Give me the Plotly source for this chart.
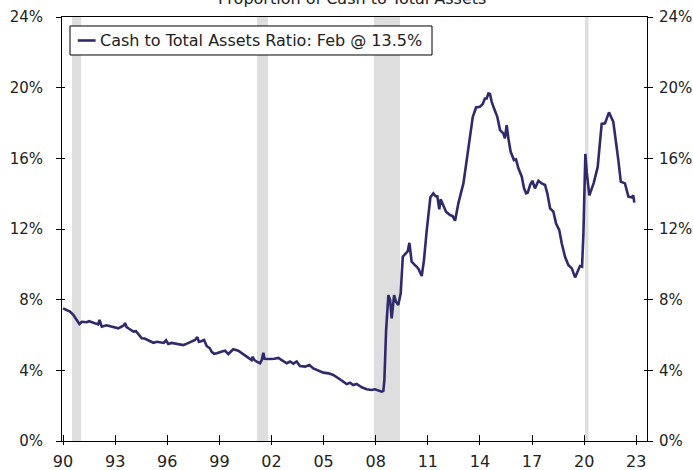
import plotly.graph_objects as go

# ---- data (decimal year, % of total assets) ----
years = [
    1990.00, 1990.20, 1990.40, 1990.60, 1990.80, 1990.94, 1991.08, 1991.36, 1991.50, 1991.65,
    1991.90, 1992.02, 1992.10, 1992.23, 1992.50, 1992.70, 1992.90, 1993.18, 1993.38, 1993.50,
    1993.57, 1993.66, 1993.76, 1994.05, 1994.20, 1994.34, 1994.53, 1994.70, 1994.91, 1995.05,
    1995.20, 1995.40, 1995.58, 1995.80, 1995.93, 1996.06, 1996.25, 1996.45, 1996.70, 1996.93,
    1997.10, 1997.31, 1997.50, 1997.60, 1997.73, 1997.82, 1997.95, 1998.12, 1998.27, 1998.45,
    1998.56, 1998.70, 1998.85, 1999.04, 1999.20, 1999.33, 1999.52, 1999.65, 1999.80, 2000.09,
    2000.25, 2000.38, 2000.55, 2000.67, 2000.86, 2000.92, 2001.00, 2001.15, 2001.34, 2001.44,
    2001.53, 2001.60, 2001.75, 2001.92, 2002.15, 2002.40, 2002.59, 2002.75, 2002.88, 2003.07,
    2003.26, 2003.45, 2003.64, 2003.93, 2004.18, 2004.41, 2004.55, 2004.70, 2004.99, 2005.28,
    2005.56, 2005.85, 2006.00, 2006.14, 2006.33, 2006.52, 2006.71, 2006.90, 2007.05, 2007.20,
    2007.48, 2007.77, 2007.96, 2008.15, 2008.35, 2008.44, 2008.50, 2008.60, 2008.73, 2008.83,
    2008.92, 2009.06, 2009.17, 2009.30, 2009.44, 2009.56, 2009.75, 2009.85, 2009.94, 2010.07,
    2010.26, 2010.45, 2010.65, 2010.78, 2010.94, 2011.05, 2011.15, 2011.32, 2011.45, 2011.55,
    2011.66, 2011.74, 2011.85, 2012.05, 2012.28, 2012.43, 2012.57, 2012.76, 2012.95, 2013.05,
    2013.24, 2013.43, 2013.59, 2013.78, 2014.00, 2014.16, 2014.29, 2014.39, 2014.49, 2014.58,
    2014.68, 2014.81, 2014.92, 2015.00, 2015.16, 2015.35, 2015.44, 2015.54, 2015.64, 2015.77,
    2015.96, 2016.08, 2016.21, 2016.41, 2016.54, 2016.66, 2016.75, 2016.89, 2017.02, 2017.17,
    2017.37, 2017.56, 2017.75, 2017.88, 2018.04, 2018.23, 2018.38, 2018.57, 2018.71, 2018.90,
    2019.09, 2019.29, 2019.48, 2019.63, 2019.76, 2019.88, 2019.96, 2020.07, 2020.15, 2020.30,
    2020.55, 2020.78, 2021.01, 2021.20, 2021.43, 2021.68, 2021.88, 2021.97, 2022.11, 2022.35,
    2022.55, 2022.74, 2022.83, 2022.89,
]
cash_ratio = [
    7.51, 7.42, 7.32, 7.13, 6.85, 6.62, 6.75, 6.72, 6.78, 6.72,
    6.66, 6.60, 6.85, 6.47, 6.55, 6.50, 6.47, 6.38, 6.48, 6.55,
    6.68, 6.45, 6.38, 6.19, 6.22, 6.05, 5.81, 5.80, 5.70, 5.60,
    5.56, 5.62, 5.60, 5.55, 5.70, 5.49, 5.55, 5.52, 5.48, 5.43,
    5.50, 5.60, 5.70, 5.72, 5.88, 5.62, 5.65, 5.72, 5.38, 5.25,
    5.05, 4.94, 4.97, 5.05, 5.08, 5.11, 4.92, 5.05, 5.19, 5.11,
    5.00, 4.92, 4.80, 4.73, 4.58, 4.77, 4.60, 4.49, 4.40, 4.58,
    5.00, 4.65, 4.63, 4.64, 4.66, 4.70, 4.58, 4.50, 4.40, 4.50,
    4.38, 4.50, 4.24, 4.21, 4.30, 4.11, 4.05, 3.98, 3.87, 3.83,
    3.74, 3.55, 3.45, 3.36, 3.22, 3.30, 3.17, 3.23, 3.12, 3.04,
    2.93, 2.89, 2.93, 2.85, 2.79, 2.83, 3.45, 6.28, 8.26, 7.98,
    6.94, 8.26, 7.88, 7.70, 8.36, 10.43, 10.62, 10.75, 11.22, 10.15,
    9.96, 9.77, 9.34, 10.24, 11.94, 13.00, 13.80, 14.02, 13.85, 13.85,
    13.11, 13.68, 13.45, 12.98, 12.79, 12.73, 12.47, 13.45, 14.20, 14.58,
    15.90, 17.41, 18.35, 18.88, 18.92, 19.07, 19.39, 19.39, 19.67, 19.64,
    19.20, 18.83, 18.55, 18.35, 17.60, 17.41, 17.13, 17.88, 17.13, 16.37,
    15.90, 15.94, 15.45, 14.96, 14.30, 14.02, 14.05, 14.49, 14.73, 14.30,
    14.73, 14.58, 14.49, 14.02, 13.17, 12.98, 12.32, 11.94, 11.19, 10.43,
    9.96, 9.77, 9.26, 9.58, 9.90, 9.86, 11.75, 16.25, 15.20, 13.90,
    14.60, 15.50, 17.95, 17.98, 18.60, 18.07, 16.66, 15.90, 14.68, 14.58,
    13.83, 13.79, 13.90, 13.49,
]

recession_start = [1990.52, 2001.17, 2007.90, 2020.05]
recession_end = [1991.04, 2001.80, 2009.40, 2020.25]

tick_years = [1990, 1993, 1996, 1999, 2002, 2005, 2008, 2011, 2014, 2017, 2020, 2023]
tick_labels = ["90", "93", "96", "99", "02", "05", "08", "11", "14", "17", "20", "23"]
y_ticks = [0, 4, 8, 12, 16, 20, 24]
y_labels = ["0%", "4%", "8%", "12%", "16%", "20%", "24%"]

legend_name = "Cash to Total Assets Ratio: Feb @ 13.5%"
title_text = "Proportion of Cash to Total Assets"

FONT = "Verdana, DejaVu Sans, sans-serif"
TEXT_COLOR = "#222222"
LINE_COLOR = "#2f2a6b"
X_RANGE = [1989.94, 2023.62]
Y_RANGE = [0, 24]

fig = go.Figure()
fig.add_trace(go.Scatter(
    x=years, y=cash_ratio, mode="lines", name=legend_name, showlegend=False,
    line=dict(color=LINE_COLOR, width=2.6),
))
# helper trace to activate the overlay axes (carries the crossing tick halves)
fig.add_trace(go.Scatter(
    x=[years[0]], y=[cash_ratio[0]], mode="markers", xaxis="x2", yaxis="y2",
    marker=dict(opacity=0), showlegend=False, hoverinfo="skip",
))

for s, e in zip(recession_start, recession_end):
    fig.add_shape(type="rect", xref="x", yref="paper", x0=s, x1=e, y0=0, y1=1,
                  fillcolor="#dedede", line=dict(width=0), layer="below")

x_font = dict(family=FONT, size=16, color=TEXT_COLOR)
y_font = dict(family=FONT, size=15, color=TEXT_COLOR)

fig.update_layout(
    width=693, height=470,
    margin=dict(l=62, r=46, t=17, b=29, autoexpand=False),
    paper_bgcolor="white", plot_bgcolor="white",
    font=dict(family=FONT, size=16, color=TEXT_COLOR),
    showlegend=False,
    xaxis=dict(
        range=X_RANGE, tickmode="array", tickvals=tick_years, ticktext=tick_labels,
        ticks="outside", ticklen=3, tickcolor="black", tickwidth=1,
        showline=True, linecolor="black", linewidth=1, mirror=True,
        showgrid=False, zeroline=False, tickfont=x_font, automargin=False,
        ticklabelstandoff=3,
    ),
    xaxis2=dict(
        range=X_RANGE, overlaying="x", anchor="y", side="bottom",
        tickmode="array", tickvals=tick_years,
        ticks="inside", ticklen=6, tickcolor="black", tickwidth=1,
        showticklabels=False, showline=False, showgrid=False, zeroline=False,
        automargin=False,
    ),
    yaxis=dict(
        range=Y_RANGE, tickmode="array", tickvals=y_ticks, ticktext=y_labels,
        ticks="outside", ticklen=5, tickcolor="black", tickwidth=1,
        showline=True, linecolor="black", linewidth=1, mirror="ticks",
        showgrid=False, zeroline=False, tickfont=y_font, side="left",
        automargin=False, ticklabelstandoff=10,
    ),
    yaxis2=dict(
        range=Y_RANGE, overlaying="y", anchor="x", side="right",
        tickmode="array", tickvals=y_ticks, ticktext=y_labels,
        ticks="inside", ticklen=3, tickcolor="black", tickwidth=1,
        showline=False, mirror="ticks",
        showgrid=False, zeroline=False, tickfont=y_font,
        automargin=False, ticklabelstandoff=11,
    ),
)

# legend box drawn in plot-area (paper) coordinates
fig.add_shape(type="rect", xref="paper", yref="paper",
              x0=0.0137, x1=0.6325, y0=0.9104, y1=0.9788,
              line=dict(color="black", width=1), fillcolor="white", layer="above")
fig.add_shape(type="line", xref="paper", yref="paper",
              x0=0.027, x1=0.0574, y0=0.9446, y1=0.9446,
              line=dict(color=LINE_COLOR, width=2.6), layer="above")
fig.add_annotation(
    text=legend_name, xref="paper", yref="paper", x=0.0615, y=0.9446,
    xanchor="left", yanchor="middle", showarrow=False,
    font=dict(family=FONT, size=16, color=TEXT_COLOR),
)

fig.add_annotation(
    text=title_text, xref="paper", yref="paper", x=0.496, y=1.043,
    xanchor="center", yanchor="middle", showarrow=False,
    font=dict(family=FONT, size=16, color=TEXT_COLOR),
)

fig.write_html(
    "out.html",
    config={"displayModeBar": False},
    post_script="document.body.style.margin='0';document.body.style.overflow='hidden';",
)
